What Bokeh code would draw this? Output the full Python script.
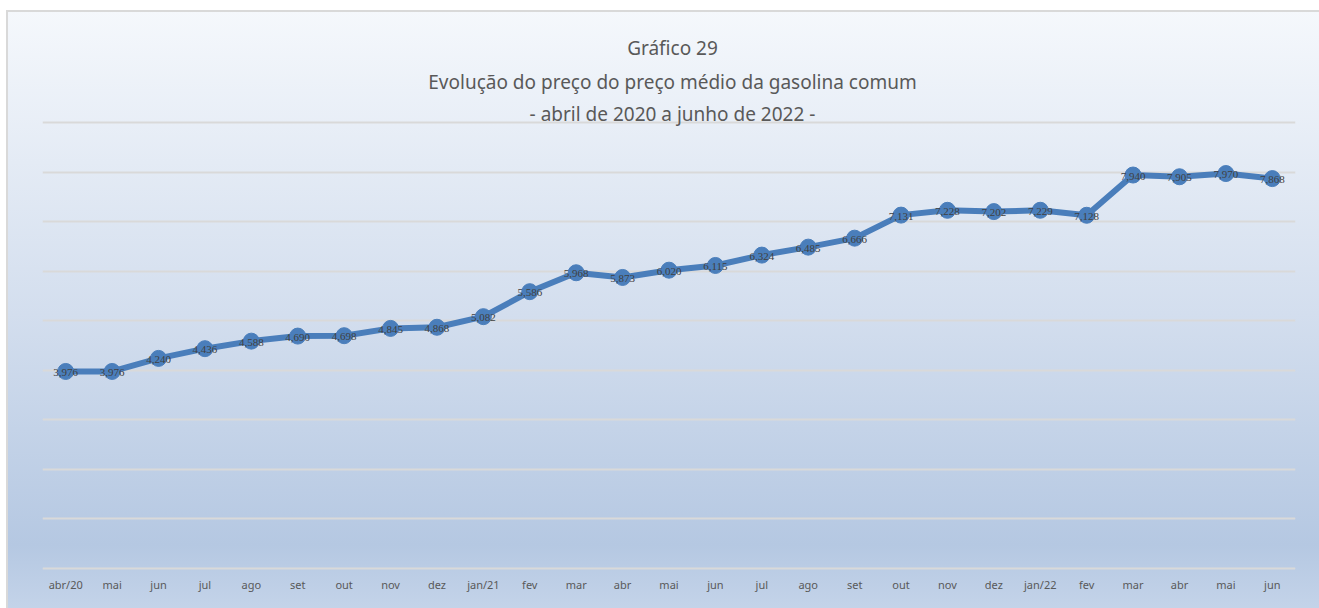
from bokeh.plotting import figure
from bokeh.models import ColumnDataSource, Range1d, FixedTicker, Label, LabelSet
from bokeh.embed import file_html
from bokeh.resources import INLINE

meses = ["abr/20", "mai", "jun", "jul", "ago", "set", "out", "nov", "dez",
         "jan/21", "fev", "mar", "abr", "mai", "jun", "jul", "ago", "set",
         "out", "nov", "dez", "jan/22", "fev", "mar", "abr", "mai", "jun"]
precos = [3.976, 3.976, 4.240, 4.436, 4.588, 4.690, 4.698, 4.845, 4.868,
          5.082, 5.586, 5.968, 5.873, 6.020, 6.115, 6.324, 6.485, 6.666,
          7.131, 7.228, 7.202, 7.229, 7.128, 7.940, 7.905, 7.970, 7.868]
titulo = ["Gráfico 29",
          "Evolução do preço do preço médio da gasolina comum",
          "- abril de 2020 a junho de 2022 -"]
grade = list(range(0, 10))

W, H = 1319, 608
FONT = "Noto Sans"
Y0_PX, Y9_PX = 568, 122            # pixel rows of the 0 and 9 grid lines
FRAME_TOP, FRAME_BOTTOM = 14, 571
ppu = (Y0_PX - Y9_PX) / 9
y_start = -(FRAME_BOTTOM - Y0_PX) / ppu
y_end = 9 + (Y9_PX - FRAME_TOP) / ppu

xs = list(range(len(meses)))
rotulos = [f"{v:.3f}".replace(".", ",") for v in precos]
src = ColumnDataSource(dict(x=xs, y=precos, lab=rotulos))

p = figure(width=W, height=H, output_backend="svg", toolbar_location=None,
           x_range=Range1d(-0.5, len(meses) - 0.5), y_range=Range1d(y_start, y_end),
           min_border_left=42, min_border_right=W - 1295,
           min_border_top=FRAME_TOP, min_border_bottom=H - FRAME_BOTTOM)

p.background_fill_color = None
p.border_fill_color = None
p.outline_line_color = None
p.styles = {
    "background":
        "linear-gradient(#d9d9d9,#d9d9d9) 6px 10px / 2px 100% no-repeat, "
        "linear-gradient(#d9d9d9,#d9d9d9) 6px 10px / 100% 2px no-repeat, "
        "linear-gradient(to bottom, #f5f8fc 0%, #d3deee 50%, #b5c8e2 88%, #c6d5ea 100%) "
        "6px 10px / 100% 100% no-repeat, #ffffff",
}

# grid
p.xgrid.visible = False
p.ygrid.ticker = FixedTicker(ticks=grade)
p.ygrid.grid_line_color = "#d9d9d9"
p.ygrid.grid_line_width = 2
p.yaxis.visible = False

ax = p.xaxis[0]
ax.ticker = FixedTicker(ticks=xs)
ax.major_label_overrides = {i: m for i, m in enumerate(meses)}
ax.axis_line_color = None
ax.major_tick_line_color = None
ax.minor_tick_line_color = None
ax.major_label_text_font = FONT
ax.major_label_text_font_size = "11px"
ax.major_label_text_color = "#595959"
ax.major_label_standoff = -1

p.line("x", "y", source=src, line_color="#4a7ebb", line_width=6)
p.scatter("x", "y", source=src, size=16, fill_color="#4a7ebb", line_color="#4a7ebb")
p.add_layout(LabelSet(x="x", y="y", text="lab", source=src, text_align="center",
                      text_baseline="middle", y_offset=-1, text_font=FONT,
                      text_font_size="11px", text_color="#404040"))

for txt, yy in zip(titulo, [47, 81, 113]):
    p.add_layout(Label(x=672, y=yy, x_units="canvas", y_units="canvas", text=txt,
                       text_align="center", text_baseline="middle", text_font=FONT,
                       text_font_size="19px", text_color="#595959"))

open("out.html", "w").write(file_html(p, INLINE))
